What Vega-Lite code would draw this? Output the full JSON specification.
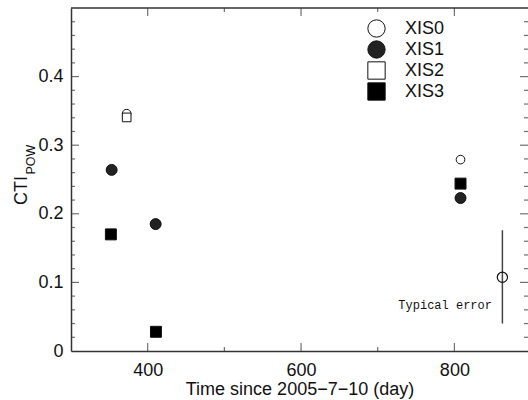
{
  "$schema": "https://vega.github.io/schema/vega-lite/v6.json",
  "autosize": "none",
  "width": 457,
  "height": 343,
  "padding": {"left": 71, "top": 8, "right": 0, "bottom": 49},
  "background": "white",
  "config": {
    "view": {"stroke": null},
    "font": "Liberation Sans",
    "axis": {
      "grid": false,
      "ticks": false,
      "domainColor": "#333",
      "domainWidth": 1.5,
      "labelFont": "Liberation Sans",
      "labelFontSize": 18,
      "labelColor": "#111",
      "titleFont": "Liberation Sans",
      "titleFontSize": 18,
      "titleFontWeight": "normal",
      "titleColor": "#111"
    },
    "legend": {
      "padding": 0,
      "symbolSize": 300,
      "symbolStrokeWidth": 1,
      "labelFontSize": 18,
      "labelFont": "Liberation Sans",
      "labelColor": "#111",
      "labelOffset": 19,
      "rowPadding": -4
    }
  },
  "datasets": {
    "pts": [
      {"series": "XIS0", "day": 372.6, "cti": 0.346},
      {"series": "XIS0", "day": 808, "cti": 0.279},
      {"series": "XIS1", "day": 353, "cti": 0.264},
      {"series": "XIS1", "day": 410.4, "cti": 0.185},
      {"series": "XIS1", "day": 808, "cti": 0.223},
      {"series": "XIS2", "day": 372.6, "cti": 0.3405},
      {"series": "XIS3", "day": 352, "cti": 0.17},
      {"series": "XIS3", "day": 410.8, "cti": 0.028},
      {"series": "XIS3", "day": 808, "cti": 0.244}
    ],
    "err": [
      {"day": 862.6, "cti": 0.1074, "lo": 0.04, "hi": 0.176}
    ],
    "notes": [
      {"label": "Typical error", "day": 849, "cti": 0.067}
    ],
    "sub": [
      {"label": "POW", "day": 248, "cti": 0.279}
    ],
    "xmajor": [{"day": 400}, {"day": 600}, {"day": 800}],
    "xminor": [{"day": 500}, {"day": 700}],
    "ymajor": [{"cti": 0.1}, {"cti": 0.2}, {"cti": 0.3}, {"cti": 0.4}],
    "yminor": [
      {"cti": 0.02}, {"cti": 0.04}, {"cti": 0.06}, {"cti": 0.08},
      {"cti": 0.12}, {"cti": 0.14}, {"cti": 0.16}, {"cti": 0.18},
      {"cti": 0.22}, {"cti": 0.24}, {"cti": 0.26}, {"cti": 0.28},
      {"cti": 0.32}, {"cti": 0.34}, {"cti": 0.36}, {"cti": 0.38},
      {"cti": 0.42}, {"cti": 0.44}, {"cti": 0.46}, {"cti": 0.48}
    ]
  },
  "layer": [
    {
      "data": {"name": "pts"},
      "transform": [{"filter": "datum.series == 'XIS1' || datum.series == 'XIS3'"}],
      "mark": {"type": "point", "filled": false, "stroke": "#111", "strokeWidth": 1, "opacity": 1, "size": 120},
      "encoding": {
        "x": {
          "field": "day", "type": "quantitative",
          "scale": {"domain": [300, 896], "nice": false, "zero": false},
          "axis": {
            "orient": "bottom",
            "title": "Time since 2005−7−10 (day)",
            "values": [400, 600, 800],
            "labelPadding": 10,
            "titlePadding": 1
          }
        },
        "y": {
          "field": "cti", "type": "quantitative",
          "scale": {"domain": [0, 0.5], "nice": false},
          "axis": {
            "orient": "left",
            "title": "CTI",
            "values": [0, 0.1, 0.2, 0.3, 0.4],
            "format": "~g",
            "labelPadding": 8,
            "titleX": -50,
            "titleY": 182,
            "titleAlign": "center",
            "titleBaseline": "middle"
          }
        },
        "shape": {
          "field": "series", "type": "nominal",
          "scale": {"domain": ["XIS0", "XIS1", "XIS2", "XIS3"], "range": ["circle", "circle", "square", "square"]},
          "legend": {"title": null, "orient": "none", "legendX": 296, "legendY": 11}
        },
        "fill": {
          "field": "series", "type": "nominal",
          "scale": {"domain": ["XIS0", "XIS1", "XIS2", "XIS3"], "range": ["white", "#222", "white", "#000"]},
          "legend": {"title": null, "orient": "none", "legendX": 296, "legendY": 11}
        }
      }
    },
    {
      "data": {"name": "pts"},
      "transform": [{"filter": "datum.series == 'XIS0' || datum.series == 'XIS2'"}],
      "mark": {"type": "point", "filled": false, "stroke": "#111", "strokeWidth": 1, "opacity": 1, "size": 75},
      "encoding": {
        "x": {"field": "day", "type": "quantitative"},
        "y": {"field": "cti", "type": "quantitative"},
        "shape": {"field": "series", "type": "nominal"},
        "fill": {"field": "series", "type": "nominal"}
      }
    },
    {
      "data": {"name": "err"},
      "mark": {"type": "rule", "color": "#444", "strokeWidth": 1.5},
      "encoding": {
        "x": {"field": "day", "type": "quantitative"},
        "y": {"field": "lo", "type": "quantitative"},
        "y2": {"field": "hi"}
      }
    },
    {
      "data": {"name": "err"},
      "mark": {"type": "point", "shape": "circle", "filled": false, "stroke": "#111", "strokeWidth": 1.2, "size": 105, "fill": "white", "fillOpacity": 0},
      "encoding": {
        "x": {"field": "day", "type": "quantitative"},
        "y": {"field": "cti", "type": "quantitative"}
      }
    },
    {
      "data": {"name": "notes"},
      "mark": {"type": "text", "font": "Liberation Mono", "fontSize": 12, "align": "right", "baseline": "middle", "color": "#111"},
      "encoding": {
        "x": {"field": "day", "type": "quantitative"},
        "y": {"field": "cti", "type": "quantitative"},
        "text": {"field": "label"}
      }
    },
    {
      "data": {"name": "sub"},
      "mark": {"type": "text", "font": "Liberation Sans", "fontSize": 12.5, "align": "center", "baseline": "middle", "angle": 270, "color": "#111"},
      "encoding": {
        "x": {"field": "day", "type": "quantitative"},
        "y": {"field": "cti", "type": "quantitative"},
        "text": {"field": "label"}
      }
    },
    {
      "data": {"name": "err"},
      "mark": {"type": "rule", "color": "#333", "strokeWidth": 1.5},
      "encoding": {
        "y": {"datum": 0.5, "type": "quantitative"}
      }
    },
    {
      "data": {"name": "xmajor"},
      "mark": {"type": "tick", "orient": "vertical", "color": "#333", "thickness": 1.2, "size": 8, "yOffset": 4},
      "encoding": {
        "x": {"field": "day", "type": "quantitative"},
        "y": {"datum": 0.5, "type": "quantitative"}
      }
    },
    {
      "data": {"name": "xminor"},
      "mark": {"type": "tick", "orient": "vertical", "color": "#333", "thickness": 1.2, "size": 4, "yOffset": 2},
      "encoding": {
        "x": {"field": "day", "type": "quantitative"},
        "y": {"datum": 0.5, "type": "quantitative"}
      }
    },
    {
      "data": {"name": "xmajor"},
      "mark": {"type": "tick", "orient": "vertical", "color": "#333", "thickness": 1.2, "size": 8, "yOffset": -4},
      "encoding": {
        "x": {"field": "day", "type": "quantitative"},
        "y": {"datum": 0, "type": "quantitative"}
      }
    },
    {
      "data": {"name": "xminor"},
      "mark": {"type": "tick", "orient": "vertical", "color": "#333", "thickness": 1.2, "size": 4, "yOffset": -2},
      "encoding": {
        "x": {"field": "day", "type": "quantitative"},
        "y": {"datum": 0, "type": "quantitative"}
      }
    },
    {
      "data": {"name": "ymajor"},
      "mark": {"type": "tick", "orient": "horizontal", "color": "#333", "thickness": 1.2, "size": 8, "xOffset": -4},
      "encoding": {
        "x": {"datum": 896, "type": "quantitative"},
        "y": {"field": "cti", "type": "quantitative"}
      }
    },
    {
      "data": {"name": "yminor"},
      "mark": {"type": "tick", "orient": "horizontal", "color": "#333", "thickness": 1.2, "size": 4, "xOffset": -2},
      "encoding": {
        "x": {"datum": 896, "type": "quantitative"},
        "y": {"field": "cti", "type": "quantitative"}
      }
    },
    {
      "data": {"name": "ymajor"},
      "mark": {"type": "tick", "orient": "horizontal", "color": "#333", "thickness": 1.2, "size": 8, "xOffset": 4},
      "encoding": {
        "x": {"datum": 300, "type": "quantitative"},
        "y": {"field": "cti", "type": "quantitative"}
      }
    },
    {
      "data": {"name": "yminor"},
      "mark": {"type": "tick", "orient": "horizontal", "color": "#333", "thickness": 1.2, "size": 4, "xOffset": 2},
      "encoding": {
        "x": {"datum": 300, "type": "quantitative"},
        "y": {"field": "cti", "type": "quantitative"}
      }
    }
  ]
}
